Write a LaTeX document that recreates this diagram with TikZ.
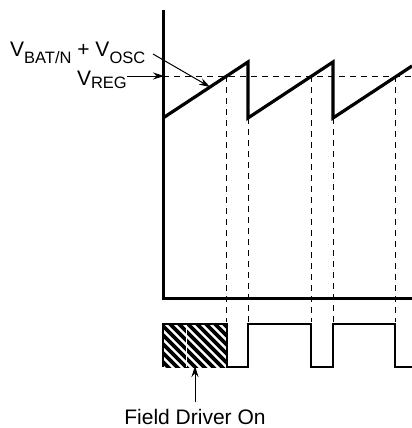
\documentclass[tikz,border=0pt]{standalone}
\usepackage{fontspec}
\setmainfont{Liberation Sans}
\usetikzlibrary{arrows.meta}
\newcommand{\sbs}[2]{\raisebox{-#1}{\fontsize{16.5bp}{18bp}\selectfont #2}}
\begin{document}
\begin{tikzpicture}[x=1bp,y=-1bp,
  axis/.style={line width=3bp},
  wave/.style={line width=3.2bp,line join=miter},
  pulse/.style={line width=2.4bp},
  guide/.style={line width=0.8bp,dash pattern=on 6bp off 5bp},
  pointer/.style={line width=1bp,-{Stealth[length=11bp,width=7bp]}},
  lbl/.style={font=\fontsize{21bp}{24bp}\selectfont,inner sep=0pt}]
\useasboundingbox (0,0) rectangle (412,428);
% axes
\coordinate (top) at (163,10);
\coordinate (origin) at (163,298);
\coordinate (xend) at (412,298);
\draw[axis] (top) -- (origin) -- (xend);
% sawtooth
\coordinate (s0) at (163,118);
\coordinate (p1) at (248,62);
\coordinate (b1) at (248,118);
\coordinate (p2) at (333,62);
\coordinate (b2) at (333,118);
\coordinate (s3) at (412,66);
\draw[wave] (s0) -- (p1) -- (b1) -- (p2) -- (b2) -- (s3);
% VREG dashed line
\coordinate (r0) at (163,76);
\coordinate (r1) at (412,76);
\draw[guide] (r0) -- (r1);
% vertical guides
\foreach \x in {226,311,395} \draw[guide] (\x,76) -- (\x,322);
\foreach \x in {248,333} \draw[guide] (\x,118) -- (\x,322);
% hatched region
\begin{scope}
\clip (163,324) rectangle (227,367);
\foreach \i in {-60,-51,...,240} \draw[line width=3.6bp] (163+\i,320) -- (163+\i+50,370);
\draw[white,line width=0.8bp] (186,324) -- (186,367);
\end{scope}
% pulse train
\draw[pulse] (163,367) -- (163,324) -- (227,324) -- (227,367) -- (248,367) -- (248,324) -- (311,324) -- (311,367) -- (333,367) -- (333,324) -- (395,324) -- (395,367) -- (412,367);
% labels
\node[lbl,anchor=base west] (vbat) at (10,56) {V\sbs{7bp}{BAT/N} + V\sbs{7bp}{OSC}};
\coordinate (vbatarrow) at (153,54);
\coordinate (vbattip) at (210,87);
\draw[pointer] (vbatarrow) -- (vbattip);
\node[lbl,anchor=base east] (vreg) at (127,85) {V\sbs{3bp}{REG}};
\coordinate (vregtip) at (164,76);
\draw[pointer] (vreg.east |- vregtip) -- (vregtip);
\node[lbl,anchor=base] (fdo) at (195,424) {Field Driver On};
\coordinate (fdotip) at (195,366);
\draw[pointer] (195,402) -- (fdotip);
\end{tikzpicture}
\end{document}
